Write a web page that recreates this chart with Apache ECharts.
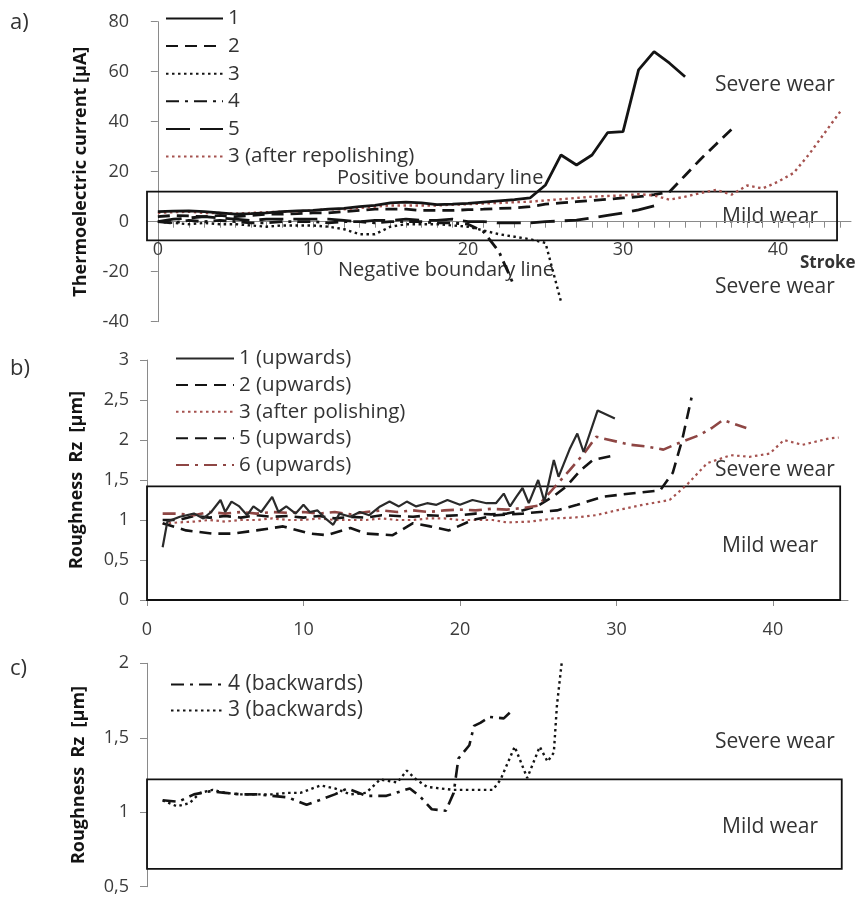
<!DOCTYPE html>
<html>
<head>
<meta charset="utf-8">
<script src="https://cdn.jsdelivr.net/npm/echarts@6.0.0/dist/echarts.min.js"></script>
<style>
  html, body { margin: 0; padding: 0; background: #fff; }
  #chart { width: 861px; height: 897px; }
</style>
</head>
<body>
<div id="chart"></div>
<script>
// ---------- a) thermoelectric current vs stroke (value index = stroke number) ----------
const currentS1 = [4, 4.2, 4.3, 4, 3.5, 3, 3.2, 3.5, 4, 4.3, 4.5, 5, 5.3, 6, 6.5, 7.5, 7.8, 7.5, 6.8, 7, 7.3, 7.8, 8.3, 8.8, 9.5, 14.7, 26.7, 22.7, 26.7, 35.6, 36, 60.7, 68, 63.4, 58];
const currentS2 = [2, 2.5, 2.3, 2, 2.5, 2, 2.5, 3, 3, 3.2, 3.5, 3.5, 4, 4.5, 5, 5, 5, 4.5, 4.5, 4.5, 4.8, 5, 5.3, 5.5, 6, 7, 7.5, 8, 8.5, 9, 9.5, 10, 10.8, 12, 18.5, 25, 31, 37];
const currentS3 = [0, -0.5, -1, -0.5, -1, -1, -1.5, -2, -1.5, -1.5, -1.5, -2, -3, -5, -5, -2, -1, -1, -1, -1.5, -2, -3.5, -5, -6, -7, -8.5, -32];
const currentS4 = [0, -0.5, 0.5, 0, 0.5, 0, -0.5, -0.5, 0, 0, 0, -0.5, 0, 0, -0.5, 0, 0, 0, -0.5, -0.5, -1, -4, -12, -26];
const currentS5 = [0, 1, 1.5, 2, 1.5, 1, 0.5, 1, 1, 1, 1, 1, 0.5, 0, 0.5, 0.5, 1, 0.5, 0.5, 1, 0, 0, -0.5, -0.5, -0.5, 0, 0.3, 0.6, 1.5, 2.5, 3.5, 4.7, 6.3];
const currentS3Repolished = [3.5, 3.8, 4, 3.5, 3.5, 3.2, 3.5, 3.8, 4, 4.2, 4.5, 5, 5, 5.5, 6, 6.5, 6.5, 6.5, 6.5, 6.8, 7, 7.3, 7.5, 7.8, 8, 8.5, 9, 9.5, 10, 10.3, 10.5, 11, 10.5, 8.8, 10, 11.5, 12.7, 10.8, 14.5, 13.3, 16, 19.5, 27, 35.5, 44];
const currentBoundary = { strokeFrom: -0.7, strokeTo: 43.8, low: -7.5, high: 12 };
const currentTicks = [0, 10, 20, 30, 40];

// ---------- b) roughness Rz, upward strokes: [stroke, Rz] ----------
const upS1 = [[1.0, 0.66], [1.3, 0.98], [2.1, 1.04], [3.0, 1.08], [3.6, 1.02], [4.1, 1.1], [4.7, 1.25], [5.0, 1.1], [5.4, 1.23], [5.9, 1.17], [6.4, 1.06], [6.8, 1.17], [7.3, 1.1], [8.0, 1.29], [8.4, 1.1], [8.9, 1.17], [9.5, 1.08], [10.0, 1.19], [10.4, 1.1], [10.9, 1.12], [11.4, 1.02], [11.9, 0.94], [12.3, 1.08], [13.0, 1.04], [13.6, 1.1], [14.2, 1.06], [14.9, 1.17], [15.5, 1.23], [16.1, 1.17], [16.6, 1.23], [17.2, 1.17], [17.9, 1.21], [18.5, 1.19], [19.2, 1.25], [20.0, 1.19], [20.8, 1.25], [21.7, 1.21], [22.3, 1.21], [22.8, 1.33], [23.2, 1.17], [23.6, 1.29], [24.0, 1.4], [24.4, 1.21], [25.0, 1.5], [25.4, 1.23], [26.0, 1.75], [26.3, 1.54], [27.0, 1.88], [27.5, 2.08], [27.9, 1.85], [28.8, 2.37], [29.9, 2.27]];
const upS2 = [[1, 1.0], [2, 1.0], [3, 1.05], [4, 1.03], [5, 1.05], [6, 1.03], [7, 1.06], [8, 1.04], [9, 1.05], [10, 1.03], [11, 1.05], [12, 1.02], [13, 1.04], [14, 1.03], [15, 1.06], [16, 1.05], [17, 1.04], [18, 1.06], [19, 1.05], [20, 1.06], [21, 1.08], [22, 1.07], [23, 1.08], [24, 1.12], [25, 1.18], [26, 1.3], [26.8, 1.42], [27.7, 1.62], [28.5, 1.75], [29.9, 1.81]];
const upS3Polished = [[1, 0.95], [2, 0.97], [3, 0.98], [4, 1.0], [5, 0.98], [6, 1.0], [7, 1.0], [8, 1.02], [9, 1.0], [10, 1.0], [11, 1.02], [12, 1.0], [13, 1.0], [14, 1.0], [15, 1.02], [16, 1.0], [17, 1.0], [18, 1.02], [19, 1.02], [20, 1.0], [21, 1.0], [22.1, 1.0], [23, 0.97], [24.5, 0.98], [26, 1.02], [27.3, 1.03], [28.7, 1.06], [30.0, 1.12], [31.7, 1.19], [33.4, 1.25], [34.5, 1.44], [35.8, 1.71], [37.3, 1.81], [38.5, 1.79], [39.8, 1.83], [40.7, 2.0], [41.9, 1.94], [43.6, 2.02], [44.2, 2.03]];
const upS5 = [[1.0, 0.96], [2.5, 0.87], [4.2, 0.83], [5.5, 0.83], [7.0, 0.87], [8.7, 0.92], [10.4, 0.83], [11.5, 0.81], [13.0, 0.9], [14.0, 0.83], [15.7, 0.81], [17.0, 0.96], [18.1, 0.92], [19.3, 0.87], [20.8, 1.0], [22.3, 1.06], [24.0, 1.08], [26.2, 1.12], [27.5, 1.19], [29.1, 1.29], [31.3, 1.34], [32.8, 1.37], [33.6, 1.59], [34.2, 2.0], [34.8, 2.53]];
const upS6 = [[1, 1.08], [2, 1.08], [3, 1.06], [4, 1.1], [5, 1.08], [6, 1.1], [7, 1.08], [8, 1.1], [9, 1.09], [10, 1.1], [11, 1.08], [12, 1.1], [13, 1.07], [14, 1.1], [15, 1.12], [16, 1.1], [17, 1.12], [18, 1.1], [19, 1.12], [20, 1.13], [21, 1.12], [22, 1.14], [23, 1.13], [24, 1.15], [25, 1.18], [26, 1.4], [27, 1.62], [28, 1.85], [28.7, 2.04], [30.9, 1.94], [31.9, 1.92], [33.0, 1.88], [34.2, 1.98], [35.3, 2.06], [36.1, 2.15], [36.8, 2.25], [38.3, 2.15]];
const roughBoundaryUp = { strokeFrom: 0, strokeTo: 44.3, low: 0, high: 1.42 };
const roughTicks = [0, 10, 20, 30, 40];

// ---------- c) roughness Rz, backward strokes: [stroke, Rz] ----------
const backS4 = [[1, 1.08], [2, 1.07], [3, 1.12], [4, 1.14], [5, 1.13], [6, 1.12], [7, 1.12], [8, 1.11], [9, 1.1], [10.2, 1.05], [11, 1.08], [12, 1.12], [12.8, 1.16], [14, 1.11], [15.3, 1.11], [16.8, 1.16], [17.5, 1.1], [18.2, 1.02], [19.1, 1.01], [19.6, 1.13], [19.9, 1.36], [20.6, 1.45], [20.9, 1.58], [21.3, 1.6], [21.9, 1.64], [22.8, 1.63], [23.4, 1.69]];
const backS3 = [[1, 1.08], [1.9, 1.04], [2.7, 1.06], [3.4, 1.13], [4.2, 1.15], [5, 1.13], [6, 1.12], [6.8, 1.12], [8, 1.12], [9, 1.13], [9.8, 1.13], [11.1, 1.18], [12, 1.16], [13, 1.12], [14, 1.13], [14.9, 1.22], [16, 1.2], [16.6, 1.28], [17.2, 1.22], [17.9, 1.17], [19.6, 1.15], [20.4, 1.15], [22.1, 1.15], [22.6, 1.22], [23.5, 1.44], [24.3, 1.23], [25.1, 1.44], [25.6, 1.34], [26.0, 1.4], [26.2, 1.72], [26.5, 2.0]];
const roughBoundaryBack = { strokeFrom: 0, strokeTo: 44.4, low: 0.62, high: 1.22 };

// ---------- styling ----------
const FONT = "'Open Sans', 'Noto Sans', sans-serif";
const INK = '#141414';
const RED = '#a5524f';
const AXIS = '#8a8a8a';
const LABEL = '#3c3c3c';
const DASH = [12, 7];
const LONGDASH = [24, 10];
const DOT = [2.5, 3.5];
const DASHDOT = [13, 6, 3, 6];

const comma = v => String(v).replace('.', ',');
const indexed = arr => arr.map((v, i) => [i, v]);
const boxArea = b => ({
  silent: true,
  itemStyle: { color: 'rgba(0,0,0,0)', borderColor: '#111', borderWidth: 1.8 },
  data: [[{ coord: [b.strokeFrom, b.low] }, { coord: [b.strokeTo, b.high] }]]
});

function line(name, data, gi, color, type, width, extra) {
  return Object.assign({
    name, type: 'line', data, xAxisIndex: gi, yAxisIndex: gi,
    symbol: 'none', smooth: false, clip: true, animation: false,
    lineStyle: { color, type, width, cap: 'butt' },
    itemStyle: { color }
  }, extra || {});
}

const yAxisBase = {
  axisLine: { show: true, lineStyle: { color: AXIS, width: 1 } },
  axisTick: { show: true, length: 7, lineStyle: { color: AXIS } },
  axisLabel: { fontSize: 18, color: LABEL, fontFamily: FONT, margin: 18 },
  splitLine: { show: false },
  nameLocation: 'middle',
  nameTextStyle: { fontSize: 18, fontWeight: 'bold', color: INK, fontFamily: FONT }
};

const legendBase = {
  orient: 'vertical', padding: 0, itemHeight: 14,
  itemStyle: { opacity: 0 },
  selectedMode: false
};
const legendText = size => ({ fontSize: size, color: '#333', fontFamily: FONT, lineHeight: 20 });

const textEl = (text, x, y, size, weight) => ({
  type: 'text', silent: true,
  style: { text, x, y, fill: '#333', fontSize: size, fontWeight: weight || 'normal', fontFamily: FONT, verticalAlign: 'middle', align: 'left' }
});

const option = {
  backgroundColor: '#fff',
  animation: false,
  grid: [
    { left: 147, top: 21.7, width: 704, height: 300, outerBoundsMode: 'none' },
    { left: 147, top: 360, width: 701, height: 240, outerBoundsMode: 'none' },
    { left: 147, top: 663.3, width: 701, height: 223.4, outerBoundsMode: 'none' }
  ],
  xAxis: [
    {
      // stroke axis drawn through the zero current line
      gridIndex: 0, type: 'value', min: -0.7, max: 44.7, position: 'bottom', offset: -100,
      axisLine: { show: true, onZero: false, lineStyle: { color: AXIS, width: 1 } },
      axisTick: { show: true, length: 6, lineStyle: { color: AXIS }, customValues: Array.from({ length: 45 }, (_, i) => i) },
      axisLabel: { fontSize: 18, color: LABEL, fontFamily: FONT, margin: 19, customValues: currentTicks },
      splitLine: { show: false }
    },
    {
      gridIndex: 1, type: 'value', min: 0, max: 44.8,
      axisLine: { show: true, onZero: false, lineStyle: { color: AXIS, width: 1 } },
      axisTick: { show: true, length: 6, lineStyle: { color: AXIS }, customValues: roughTicks },
      axisLabel: { fontSize: 18, color: LABEL, fontFamily: FONT, margin: 21, customValues: roughTicks },
      splitLine: { show: false }
    },
    {
      gridIndex: 2, type: 'value', min: 0, max: 44.8, show: false
    }
  ],
  yAxis: [
    Object.assign({}, yAxisBase, {
      gridIndex: 0, type: 'value', min: -40, max: 80, interval: 20,
      name: 'Thermoelectric current [µA]', nameGap: 57
    }),
    Object.assign({}, yAxisBase, {
      gridIndex: 1, type: 'value', min: 0, max: 3, interval: 0.5,
      axisLabel: Object.assign({}, yAxisBase.axisLabel, { formatter: comma }),
      name: 'Roughness  Rz  [µm]', nameGap: 61
    }),
    Object.assign({}, yAxisBase, {
      gridIndex: 2, type: 'value', min: 0.5, max: 2, interval: 0.5,
      axisLabel: Object.assign({}, yAxisBase.axisLabel, { formatter: comma }),
      name: 'Roughness  Rz  [µm]', nameGap: 59
    })
  ],
  legend: [
    Object.assign({}, legendBase, {
      left: 165, top: 8, itemWidth: 57, itemGap: 6.6, textStyle: legendText(20.5),
      data: ['1', '2', '3', '4', '5', '3 (after repolishing)']
    }),
    Object.assign({}, legendBase, {
      left: 175, top: 348, itemWidth: 58, itemGap: 5.6, textStyle: legendText(20.5),
      data: ['1 (upwards)', '2 (upwards)', '3 (after polishing)', '5 (upwards)', '6 (upwards)']
    }),
    Object.assign({}, legendBase, {
      left: 170, top: 674, itemWidth: 52, itemGap: 5, textStyle: legendText(21),
      data: ['4 (backwards)', '3 (backwards)']
    })
  ],
  series: [
    line('1', indexed(currentS1), 0, INK, 'solid', 2.8, { markArea: boxArea(currentBoundary), z: 5 }),
    line('2', indexed(currentS2), 0, INK, DASH, 2.8),
    line('3', indexed(currentS3), 0, INK, DOT, 2.4),
    line('4', indexed(currentS4), 0, INK, DASHDOT, 2.8),
    line('5', indexed(currentS5), 0, INK, LONGDASH, 2.8),
    line('3 (after repolishing)', indexed(currentS3Repolished), 0, RED, DOT, 2.4),

    line('1 (upwards)', upS1, 1, '#2a2a2a', 'solid', 2.2, { markArea: boxArea(roughBoundaryUp), z: 5 }),
    line('2 (upwards)', upS2, 1, INK, DASH, 2.6),
    line('3 (after polishing)', upS3Polished, 1, RED, DOT, 2.2),
    line('5 (upwards)', upS5, 1, INK, DASH, 2.6),
    line('6 (upwards)', upS6, 1, '#8e4644', DASHDOT, 2.6),

    line('4 (backwards)', backS4, 2, INK, DASHDOT, 2.6, { markArea: boxArea(roughBoundaryBack), z: 5 }),
    line('3 (backwards)', backS3, 2, INK, DOT, 2.4)
  ],
  graphic: [
    textEl('a)', 10, 23, 22),
    textEl('b)', 10, 369, 22),
    textEl('c)', 10, 669, 22),
    textEl('Severe wear', 715, 85, 21),
    textEl('Positive boundary line', 337, 178, 20),
    textEl('Mild wear', 722, 217, 21),
    textEl('Stroke', 800, 263, 17, 'bold'),
    textEl('Negative boundary line', 338, 270, 20),
    textEl('Severe wear', 715, 287, 21),
    textEl('Severe wear', 715, 470, 21),
    textEl('Mild wear', 722, 546, 21),
    textEl('Severe wear', 715, 742, 21),
    textEl('Mild wear', 722, 827, 21)
  ]
};

const chart = echarts.init(document.getElementById('chart'), null, { renderer: 'canvas' });
chart.setOption(option);
</script>
</body>
</html>
